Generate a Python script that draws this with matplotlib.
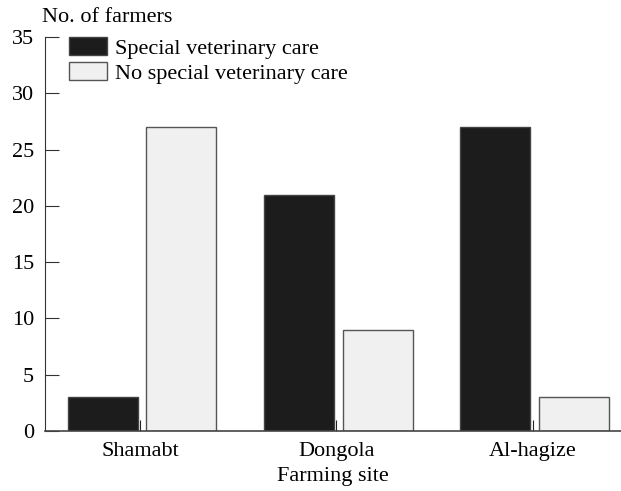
import matplotlib
matplotlib.use("Agg")
import matplotlib.pyplot as plt
import numpy as np

plt.rcParams['font.family'] = ['Liberation Serif', 'DejaVu Serif']

sites = ["Shamabt", "Dongola", "Al-hagize"]
special = [3, 21, 27]
no_special = [27, 9, 3]
yticks = [0, 5, 10, 15, 20, 25, 30, 35]

fig = plt.figure(figsize=(6.21, 4.91), dpi=100)
ax = fig.add_axes([45/621, 1-431/491, 1-45/621, (431-37)/491])

x = np.arange(len(sites))
w = 0.356
ax.bar(x - 0.2, special, w, color='#1c1c1c', edgecolor='#444444', linewidth=1, label='Special veterinary care', zorder=2)
ax.bar(x + 0.2, no_special, w, color='#f0f0f0', edgecolor='#555555', linewidth=1, label='No special veterinary care', zorder=2)

ax.set_xlim(-0.494, 2.44)
ax.set_ylim(0, 35)
ax.set_yticks(yticks)
ax.set_xticks(x - 0.01)
ax.set_xticklabels(sites)
for s in ['top', 'right']:
    ax.spines[s].set_visible(False)
ax.spines['left'].set_color('#333333')
ax.spines['bottom'].set_color('#444444')
ax.spines['bottom'].set_linewidth(1.2)
ax.tick_params(axis='y', direction='in', length=10, labelsize=16, pad=8, color='#333333')
ax.tick_params(axis='x', direction='in', length=8, labelsize=16, pad=8, color='#222222')
ax.set_xlabel('Farming site', fontsize=16, labelpad=4)
fig.text(42/621, 1-18/491, 'No. of farmers', fontsize=16, va='center', ha='left')

leg = ax.legend(loc='upper left', bbox_to_anchor=(0.0417, 1.0), frameon=False, fontsize=16,
                handlelength=1.71, handleheight=0.86, handletextpad=0.38, labelspacing=0.16, borderaxespad=0,
                borderpad=0)

fig.savefig('out.png', dpi=100)
